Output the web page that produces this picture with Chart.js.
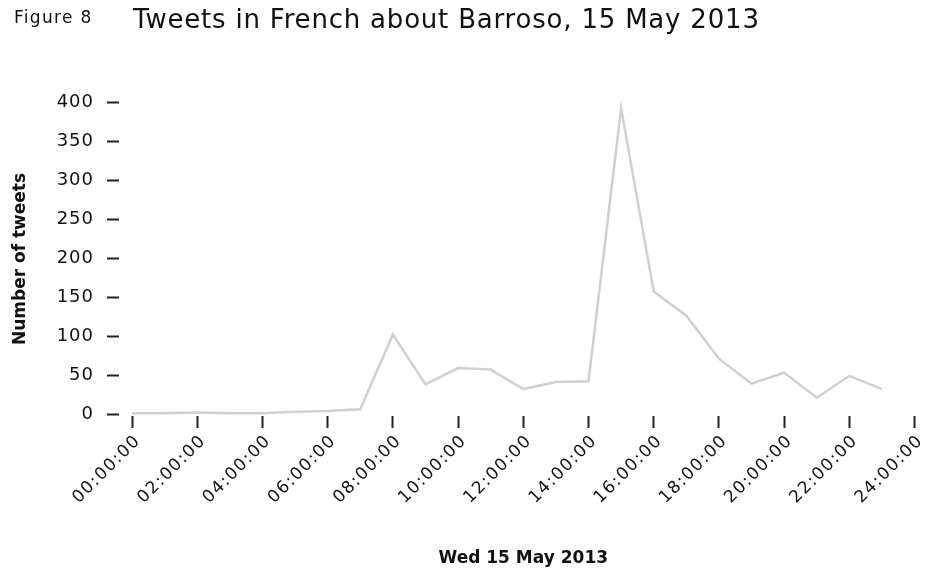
<!DOCTYPE html>
<html>
<head>
<meta charset="utf-8">
<script src="https://cdn.jsdelivr.net/npm/chart.js@4.4.0/dist/chart.umd.min.js"></script>
<style>
html,body{margin:0;padding:0;background:#fff;}
#wrap{position:relative;width:932px;height:576px;}
#fig{position:absolute;left:14px;top:7px;font-family:"DejaVu Sans";font-size:17px;letter-spacing:1.3px;color:#111;white-space:nowrap;}
#title{position:absolute;left:133px;top:4px;font-family:"DejaVu Sans";font-size:26px;letter-spacing:0.8px;color:#111;white-space:nowrap;}
canvas{position:absolute;left:0;top:0;}
</style>
</head>
<body>
<div id="wrap">
<canvas id="c" width="932" height="576"></canvas>
<div id="fig">Figure 8</div>
<div id="title">Tweets in French about Barroso, 15 May 2013</div>
</div>
<script>
const hours = [0,1,2,3,4,5,6,7,8,9,10,11,12,13,14,15,16,17,18,19,20,21,22,23];
const tweets = [1,1,2,1,1,3,4,6,102,38,59,57,32,41,42,392,157,126,71,39,53,21,49,32];
const xTickHours = [0,2,4,6,8,10,12,14,16,18,20,22,24];
const yTickValues = [0,50,100,150,200,250,300,350,400];
const xTitle = "Wed 15 May 2013";
const yTitle = "Number of tweets";

function hhmmss(h){ return String(h).padStart(2,'0') + ':00:00'; }

const xTickFont = {family:"DejaVu Sans", size:17};
const yTickFont = {family:"DejaVu Sans", size:18};
const titleFont = {family:"DejaVu Sans", size:17, weight:'bold'};

// letter spacing only for the tick labels
const spacingPlugin = {
  id:'labelSpacing',
  beforeDraw(chart){
    Object.values(chart.scales).forEach(s=>{
      if (s._spacingWrapped) return;
      const orig = s.drawLabels;
      const sp = s.axis === 'y' ? '1px' : '1.5px';
      s.drawLabels = function(ca){
        const ctx = this.ctx;
        ctx.save();
        ctx.letterSpacing = sp;
        orig.call(this, ca);
        ctx.restore();
      };
      s._spacingWrapped = true;
    });
  }
};

new Chart(document.getElementById('c'), {
  type:'line',
  data:{
    datasets:[{
      data: hours.map((h,i)=>({x:h, y:tweets[i]})),
      borderColor:'#d0d0d0',
      borderWidth:2.5,
      pointRadius:0,
      tension:0,
      fill:false
    }]
  },
  plugins:[spacingPlugin],
  options:{
    responsive:false,
    animation:false,
    layout:{padding:{top:102,right:16,left:0,bottom:0}},
    plugins:{legend:{display:false},tooltip:{enabled:false}},
    scales:{
      x:{
        type:'linear',
        min:0,
        max:24,
        afterBuildTicks:(s)=>{ s.ticks = xTickHours.map(v=>({value:v})); },
        afterFit:(s)=>{ s.height = 160; },
        border:{display:false},
        grid:{drawOnChartArea:false, drawTicks:true, tickLength:12, tickColor:'#222', tickWidth:2},
        ticks:{
          autoSkip:false, maxRotation:45, minRotation:45, padding:3, labelOffset:6,
          color:'#111', font:xTickFont,
          callback:(v)=>hhmmss(v)
        },
        title:{display:true, text:xTitle, color:'#111', font:titleFont, padding:{top:0,bottom:7}}
      },
      y:{
        type:'linear',
        min:-2.5,
        max:400,
        afterBuildTicks:(s)=>{ s.ticks = yTickValues.map(v=>({value:v})); },
        afterFit:(s)=>{ s.width = 132; },
        border:{display:false},
        grid:{drawOnChartArea:false, drawTicks:true, tickLength:25, tickColor:'#222', tickWidth:2, tickBorderDash:[12,100]},
        ticks:{padding:13, color:'#111', font:yTickFont},
        title:{display:true, text:yTitle, color:'#111', font:titleFont, padding:{top:10,bottom:0}}
      }
    }
  }
});
</script>
</body>
</html>
